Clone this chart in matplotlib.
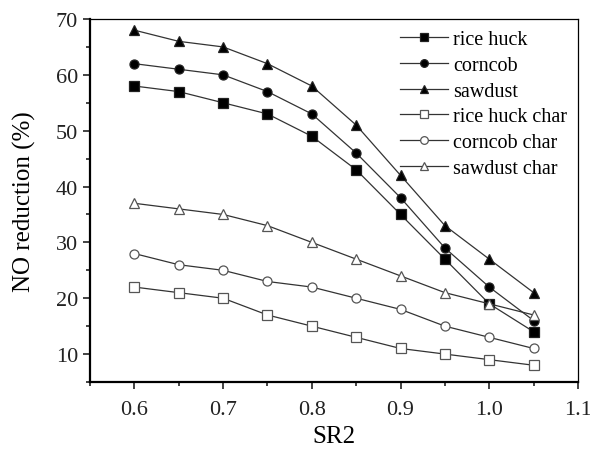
import matplotlib
matplotlib.use('Agg')
from matplotlib import pyplot as plt
from matplotlib.ticker import MultipleLocator

plt.rcParams['font.family'] = ['Liberation Serif', 'DejaVu Serif']

sr2 = [0.6, 0.65, 0.7, 0.75, 0.8, 0.85, 0.9, 0.95, 1.0, 1.05]
rice_huck = [58, 57, 55, 53, 49, 43, 35, 27, 19, 14]
corncob = [62, 61, 60, 57, 53, 46, 38, 29, 22, 16]
sawdust = [68, 66, 65, 62, 58, 51, 42, 33, 27, 21]
rice_huck_char = [22, 21, 20, 17, 15, 13, 11, 10, 9, 8]
corncob_char = [28, 26, 25, 23, 22, 20, 18, 15, 13, 11]
sawdust_char = [37, 36, 35, 33, 30, 27, 24, 21, 19, 17]

series = [
    ('rice huck', rice_huck, 's', 'black'),
    ('corncob', corncob, 'o', 'black'),
    ('sawdust', sawdust, '^', 'black'),
    ('rice huck char', rice_huck_char, 's', 'white'),
    ('corncob char', corncob_char, 'o', 'white'),
    ('sawdust char', sawdust_char, '^', 'white'),
]

fig = plt.figure(figsize=(5.9, 4.52), dpi=100)
ax = fig.add_axes([90 / 590, 1 - 383 / 452, (578 - 90) / 590, (383 - 20) / 452])

for name, vals, m, fc in series:
    ms = 7.5 if m == '^' else 6.5
    ax.plot(sr2, vals, color='#333333', lw=0.9, marker=m, markersize=ms,
            markerfacecolor=fc, markeredgecolor='#222222' if fc == 'black' else '#555555',
            markeredgewidth=0.9, label=name)

ax.set_xlim(0.55, 1.1)
ax.set_ylim(5, 70)
ax.xaxis.set_minor_locator(MultipleLocator(0.05))
ax.yaxis.set_major_locator(MultipleLocator(10))
ax.yaxis.set_minor_locator(MultipleLocator(5))
ax.set_xticks([0.6, 0.7, 0.8, 0.9, 1.0, 1.1])
ax.set_xticklabels(['0.6', '0.7', '0.8', '0.9', '1.0', '1.1'])
ax.tick_params(which='major', length=5, width=1.2, labelsize=16, colors='#222222')
ax.tick_params(which='minor', length=3, width=1.2, colors='#222222')
ax.tick_params(axis='x', pad=8)
for s in ['left', 'bottom']:
    ax.spines[s].set_linewidth(1.6)
for s in ['top', 'right']:
    ax.spines[s].set_linewidth(0.9)

ax.set_xlabel('SR2', fontsize=18, labelpad=4)
ax.set_ylabel('NO reduction (%)', fontsize=18, labelpad=14)

leg = ax.legend(loc='upper right', frameon=False, fontsize=14.5, handlelength=2.4,
                handletextpad=0.25, labelspacing=0.33, borderaxespad=0.15,
                markerscale=0.85)

fig.savefig('out.png', dpi=100)
